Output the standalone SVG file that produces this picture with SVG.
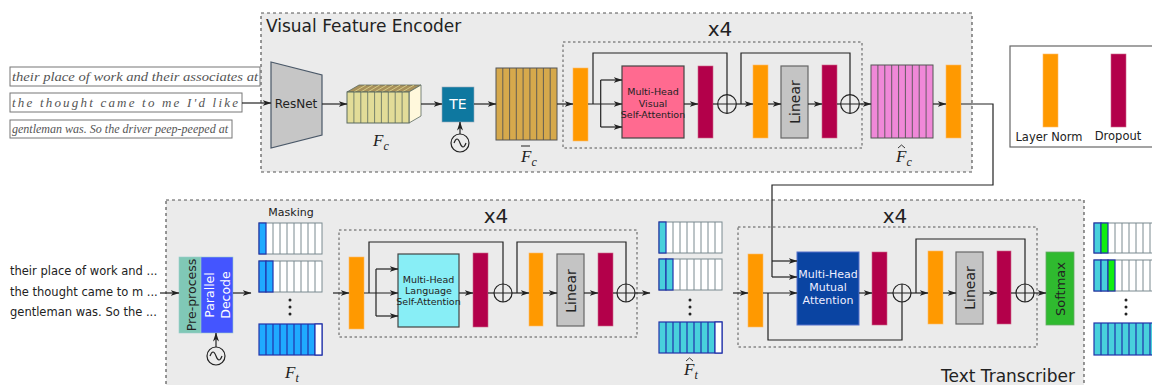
<svg xmlns="http://www.w3.org/2000/svg" width="1152" height="385" viewBox="0 0 1152 385">
<defs>
<marker id="ah" markerWidth="9" markerHeight="6" refX="8.5" refY="3" orient="auto" markerUnits="userSpaceOnUse"><path d="M0,0 L9,3 L0,6 L2.5,3 z" fill="#222"/></marker>
<style>
text{font-family:"DejaVu Sans","Liberation Sans",sans-serif;fill:#222}
.panel{fill:#ebebeb;stroke:#555;stroke-dasharray:3 3;stroke-width:1.2}
.inner{fill:none;stroke:#555;stroke-dasharray:2.5 2.5;stroke-width:1}
.ln{fill:#ff9900;stroke:#ffbb66;stroke-width:0.6}
.do{fill:#b3004a;stroke:#cc6688;stroke-width:0.6}
.lin{fill:#c4c4c4;stroke:#666;stroke-width:1.2}
.c{fill:none;stroke:#222;stroke-width:1.2}
.a{fill:none;stroke:#222;stroke-width:1.2;marker-end:url(#ah)}
.hw{font-family:"Liberation Serif",serif;font-style:italic;fill:#555}
.math{font-family:"Liberation Serif",serif;font-style:italic;fill:#222}
.cellw{fill:#fff;stroke:#7a8a90;stroke-width:1}
.cb{fill:#1faaff;stroke:#2233aa;stroke-width:1.2}
.cc{fill:#48d0dc;stroke:#2233aa;stroke-width:1.2}
.cg{fill:#11ee11;stroke:#2233aa;stroke-width:1.2}
</style>
</defs>
<rect width="1152" height="385" fill="#fff"/>

<!-- panels -->
<g id="encoder-panel">
<rect class="panel" x="261" y="13" width="711" height="159"/>
<text x="266" y="32" font-size="17">Visual Feature Encoder</text>
<rect class="inner" x="563" y="42" width="299" height="106"/>
<text x="720" y="36" font-size="20" text-anchor="middle">x4</text>
</g>
<g id="transcriber-panel">
<rect class="panel" x="166" y="200" width="918" height="200"/>
<text x="1075" y="382" font-size="17" text-anchor="end">Text Transcriber</text>
<rect class="inner" x="339" y="230" width="298" height="107"/>
<text x="496" y="223" font-size="20" text-anchor="middle">x4</text>
<rect class="inner" x="738" y="227" width="299" height="120"/>
<text x="895" y="223" font-size="20" text-anchor="middle">x4</text>
</g>

<!-- inputs -->
<g id="handwriting">
<rect x="10" y="67" width="250" height="19" fill="#fff" stroke="#777"/>
<text class="hw" x="12" y="81" font-size="13" textLength="246" lengthAdjust="spacingAndGlyphs">their place of work and their associates at</text>
<rect x="10" y="93" width="232" height="19" fill="#fff" stroke="#777"/>
<text class="hw" x="12" y="107" font-size="13" textLength="226" lengthAdjust="spacing">the thought came to me I'd like</text>
<rect x="10" y="120" width="222" height="18" fill="#fff" stroke="#777"/>
<text class="hw" x="12" y="133" font-size="12" textLength="216" lengthAdjust="spacingAndGlyphs">gentleman was. So the driver peep-peeped at</text>
</g>
<g id="text-inputs" font-size="11.5">
<text x="10" y="275">their place of work and ...</text>
<text x="10" y="296">the thought came to m ...</text>
<text x="10" y="316">gentleman was. So the ...</text>
</g>

<!-- encoder nodes -->
<g id="resnet">
<polygon points="271,62 322,75 322,135 271,148" fill="#c6c6c6" stroke="#4a5868" stroke-width="1.2"/>
<text x="296" y="108" font-size="12" text-anchor="middle">ResNet</text>
</g>
<g id="fc">
<polygon points="347,92 359,85 421,85 409,92" fill="#a8905a" stroke="#5a6a60" stroke-width="0.8"/>
<path d="M353.9,92 L365.9,85 M360.8,92 L372.8,85 M367.7,92 L379.7,85 M374.6,92 L386.6,85 M381.4,92 L393.4,85 M388.3,92 L400.3,85 M395.2,92 L407.2,85 M402.1,92 L414.1,85" stroke="#e0d890" stroke-width="0.8"/>
<polygon points="409,92 421,85 421,116 409,123" fill="#fff8dc" stroke="#5a6a60" stroke-width="0.8"/>
<rect x="347" y="92" width="62" height="31" fill="#e2dc98" stroke="#5a6a60" stroke-width="1"/>
<path d="M353.9,92V123M360.8,92V123M367.7,92V123M374.6,92V123M381.4,92V123M388.3,92V123M395.2,92V123M402.1,92V123" stroke="#5a6a60" stroke-width="0.8"/>
<text class="math" x="373" y="146" font-size="17">F<tspan font-size="12" dy="4">c</tspan></text>
</g>
<g id="te">
<rect x="442" y="87" width="32" height="35" fill="#0e78a0" stroke="#9ab" stroke-width="0.6"/>
<text x="458" y="109" font-size="14" text-anchor="middle" style="fill:#fff">TE</text>
<circle class="c" cx="460" cy="143" r="9"/>
<path class="c" d="M454,143 q3,-8 6,0 t6,0"/>
</g>
<g id="fc-bar">
<rect x="496" y="68" width="61" height="72" fill="#d6a94c" stroke="#555" stroke-width="1"/>
<path d="M502.8,68V140M509.6,68V140M516.3,68V140M523.1,68V140M529.9,68V140M536.7,68V140M543.4,68V140M550.2,68V140" stroke="#555" stroke-width="0.9"/>
<text class="math" x="521" y="162" font-size="17">F<tspan font-size="12" dy="4">c</tspan></text>
<path d="M521,146 h9" stroke="#222" stroke-width="1"/>
</g>
<g id="enc-block">
<rect class="ln" x="573" y="68" width="15" height="73"/>
<rect x="622" y="66" width="62" height="72" fill="#ff6a90" stroke="#444" stroke-width="1.2"/>
<text font-size="9.5" text-anchor="middle"><tspan x="653" y="95">Multi-Head</tspan><tspan x="653" y="107">Visual</tspan><tspan x="653" y="118">Self-Attention</tspan></text>
<rect class="do" x="698" y="66" width="15" height="72"/>
<circle class="c" cx="727" cy="104" r="9.3"/>
<path class="c" d="M717.7,104H736.3M727,94.7V113.3"/>
<rect class="ln" x="753" y="65" width="15" height="73"/>
<rect class="lin" x="781" y="66" width="27" height="72"/>
<text font-size="14" text-anchor="middle" transform="translate(799.5,102) rotate(-90)">Linear</text>
<rect class="do" x="822" y="65" width="15" height="73"/>
<circle class="c" cx="850" cy="104" r="9.3"/>
<path class="c" d="M840.7,104H859.3M850,94.7V113.3"/>
</g>
<g id="fc-hat">
<rect x="871" y="65" width="62" height="73" fill="#f088d8" stroke="#555" stroke-width="1"/>
<path d="M877.9,65V138M884.8,65V138M891.7,65V138M898.6,65V138M905.4,65V138M912.3,65V138M919.2,65V138M926.1,65V138" stroke="#555" stroke-width="0.9"/>
<text class="math" x="896" y="162" font-size="17">F<tspan font-size="12" dy="4">c</tspan></text>
<path d="M898,148 l3.5,-3 l3.5,3" fill="none" stroke="#222" stroke-width="0.9"/>
<rect class="ln" x="946" y="65" width="15" height="73"/>
</g>

<g id="legend">
<rect x="1010" y="46" width="150" height="101" fill="#fff" stroke="#666" stroke-width="1.2"/>
<rect class="ln" x="1043" y="54" width="15" height="73"/>
<rect class="do" x="1111" y="54" width="15" height="73"/>
<text x="1049" y="141" font-size="11.5" text-anchor="middle">Layer Norm</text>
<text x="1118" y="140" font-size="11.5" text-anchor="middle">Dropout</text>
</g>

<!-- transcriber nodes -->
<g id="preprocess">
<rect x="179" y="257" width="22" height="76" fill="#80c8b6" stroke="#9cc" stroke-width="0.6"/>
<rect x="201" y="257" width="32" height="76" fill="#4455ff" stroke="#9cc" stroke-width="0.6"/>
<text font-size="12.5" text-anchor="middle" transform="translate(195.5,295) rotate(-90)">Pre-process</text>
<text font-size="12.5" text-anchor="middle" style="fill:#fff" transform="translate(213.5,295) rotate(-90)">Parallel</text>
<text font-size="12.5" text-anchor="middle" style="fill:#fff" transform="translate(229.5,295) rotate(-90)">Decode</text>
<circle class="c" cx="216" cy="356" r="9"/>
<path class="c" d="M210,356 q3,-8 6,0 t6,0"/>
</g>
<g id="masking">
<text x="291" y="216" font-size="11" text-anchor="middle">Masking</text>
<rect class="cellw" x="259" y="223" width="63" height="31"/>
<path d="M273,223V254M280,223V254M287,223V254M294,223V254M301,223V254M308,223V254M315,223V254" stroke="#7a8a90"/>
<rect class="cb" x="259" y="223" width="7" height="31"/>
<rect class="cellw" x="259" y="261" width="63" height="31"/>
<path d="M280,261V292M287,261V292M294,261V292M301,261V292M308,261V292M315,261V292" stroke="#7a8a90"/>
<rect class="cb" x="259" y="261" width="7" height="31"/><rect class="cb" x="266" y="261" width="7" height="31"/>
<circle cx="290" cy="300" r="1.5" fill="#222"/><circle cx="290" cy="307" r="1.5" fill="#222"/><circle cx="290" cy="314" r="1.5" fill="#222"/>
<rect class="cb" x="259" y="324" width="63" height="31"/>
<path d="M266,324V355M273,324V355M280,324V355M287,324V355M294,324V355M301,324V355M308,324V355M315,324V355" stroke="#2233aa" stroke-width="1.2"/>
<rect x="315" y="324" width="7" height="31" fill="#fff" stroke="#2233aa" stroke-width="1.2"/>
<text class="math" x="285" y="378" font-size="17">F<tspan font-size="12" dy="4">t</tspan></text>
</g>
<g id="lang-block">
<rect class="ln" x="349" y="257" width="15" height="72"/>
<rect x="398" y="254" width="61" height="73" fill="#88eef6" stroke="#444" stroke-width="1.2"/>
<text font-size="9.5" text-anchor="middle"><tspan x="428.5" y="283">Multi-Head</tspan><tspan x="428.5" y="294">Language</tspan><tspan x="428.5" y="305">Self-Attention</tspan></text>
<rect class="do" x="473" y="253" width="15" height="74"/>
<circle class="c" cx="503" cy="293" r="9"/>
<path class="c" d="M494,293H512M503,284V302"/>
<rect class="ln" x="529" y="253" width="14" height="73"/>
<rect class="lin" x="557" y="254" width="27" height="72"/>
<text font-size="14" text-anchor="middle" transform="translate(575.5,291) rotate(-90)">Linear</text>
<rect class="do" x="598" y="253" width="15" height="73"/>
<circle class="c" cx="626" cy="293" r="9"/>
<path class="c" d="M617,293H635M626,284V302"/>
</g>
<g id="ft-hat">
<rect class="cellw" x="659" y="222" width="63" height="31"/>
<path d="M673,222V253M680,222V253M687,222V253M694,222V253M701,222V253M708,222V253M715,222V253" stroke="#7a8a90"/>
<rect class="cc" x="659" y="222" width="7" height="31"/>
<rect class="cellw" x="659" y="259" width="63" height="31"/>
<path d="M680,259V290M687,259V290M694,259V290M701,259V290M708,259V290M715,259V290" stroke="#7a8a90"/>
<rect class="cc" x="659" y="259" width="7" height="31"/><rect class="cc" x="666" y="259" width="7" height="31"/>
<circle cx="690" cy="300" r="1.5" fill="#222"/><circle cx="690" cy="307" r="1.5" fill="#222"/><circle cx="690" cy="314" r="1.5" fill="#222"/>
<rect class="cc" x="659" y="322" width="63" height="31"/>
<path d="M666,322V353M673,322V353M680,322V353M687,322V353M694,322V353M701,322V353M708,322V353M715,322V353" stroke="#2233aa" stroke-width="1.2"/>
<rect x="715" y="322" width="7" height="31" fill="#fff" stroke="#2233aa" stroke-width="1.2"/>
<text class="math" x="684" y="375" font-size="17">F<tspan font-size="12" dy="4">t</tspan></text>
<path d="M686,361 l3.5,-3 l3.5,3" fill="none" stroke="#222" stroke-width="0.9"/>
</g>
<g id="mutual-block">
<rect class="ln" x="748" y="254" width="15" height="73"/>
<rect x="797" y="252" width="62" height="73" fill="#0a44a2" stroke="#5570cc" stroke-width="1"/>
<text font-size="11" text-anchor="middle" style="fill:#eef"><tspan x="828" y="278">Multi-Head</tspan><tspan x="828" y="291">Mutual</tspan><tspan x="828" y="304">Attention</tspan></text>
<rect class="do" x="872" y="252" width="15" height="73"/>
<circle class="c" cx="902" cy="293" r="9"/>
<path class="c" d="M893,293H911M902,284V302"/>
<rect class="ln" x="928" y="251" width="15" height="73"/>
<rect class="lin" x="956" y="252" width="27" height="72"/>
<text font-size="14" text-anchor="middle" transform="translate(974.5,288) rotate(-90)">Linear</text>
<rect class="do" x="997" y="251" width="14" height="73"/>
<circle class="c" cx="1025" cy="293" r="9"/>
<path class="c" d="M1016,293H1034M1025,284V302"/>
</g>
<g id="softmax">
<rect x="1046" y="252" width="28" height="73" fill="#2fba2f" stroke="#6a6" stroke-width="0.8"/>
<text font-size="13" text-anchor="middle" transform="translate(1065,289) rotate(-90)">Softmax</text>
</g>
<g id="output">
<rect class="cellw" x="1094" y="223" width="63" height="30"/>
<path d="M1115,223V253M1122,223V253M1129,223V253M1136,223V253M1143,223V253M1150,223V253" stroke="#7a8a90"/>
<rect class="cc" x="1094" y="223" width="7" height="30"/><rect class="cg" x="1101" y="223" width="7" height="30"/>
<rect class="cellw" x="1094" y="260" width="63" height="31"/>
<path d="M1122,260V291M1129,260V291M1136,260V291M1143,260V291M1150,260V291" stroke="#7a8a90"/>
<rect class="cc" x="1094" y="260" width="7" height="31"/><rect class="cc" x="1101" y="260" width="7" height="31"/><rect class="cg" x="1108" y="260" width="7" height="31"/>
<circle cx="1126" cy="300" r="1.5" fill="#222"/><circle cx="1126" cy="307" r="1.5" fill="#222"/><circle cx="1126" cy="314" r="1.5" fill="#222"/>
<rect class="cc" x="1094" y="323" width="63" height="32"/>
<path d="M1101,323V355M1108,323V355M1115,323V355M1122,323V355M1129,323V355M1136,323V355M1143,323V355M1150,323V355" stroke="#2233aa" stroke-width="1.2"/>
</g>

<!-- connectors -->
<g id="connectors">
<path class="a" d="M242,103H271"/>
<path class="a" d="M322,104H347"/>
<path class="a" d="M421,104H442"/>
<path class="a" d="M460,134V122"/>
<path class="a" d="M474,104H496"/>
<path class="a" d="M557,104H573"/>
<path class="a" d="M588,104H622"/>
<path class="c" d="M600.7,80V127"/>
<path class="a" d="M600.7,80H622"/>
<path class="a" d="M600.7,127H622"/>
<path class="c" d="M593,104V53H727V94.7"/>
<path class="a" d="M684,104H698"/>
<path class="c" d="M713,104H717.7"/>
<path class="a" d="M736.3,104H753"/>
<path class="c" d="M741,104V53H850V94.7"/>
<path class="a" d="M768,104H781"/>
<path class="a" d="M808,104H822"/>
<path class="c" d="M837,104H840.7"/>
<path class="a" d="M859.3,104H871"/>
<path class="a" d="M933,104H946"/>
<path class="c" d="M961,104H993V185H772V277"/>
<path class="a" d="M772,261H797"/>
<path class="a" d="M772,277H797"/>

<path class="a" d="M160,293H179"/>
<path class="a" d="M216,347V333"/>
<path class="a" d="M233,293H251"/>
<path class="a" d="M333,293H349"/>
<path class="a" d="M364,293H398"/>
<path class="c" d="M376,269V316"/>
<path class="a" d="M376,269H398"/>
<path class="a" d="M376,316H398"/>
<path class="c" d="M369,293V242H503V284"/>
<path class="a" d="M459,293H473"/>
<path class="c" d="M488,293H494"/>
<path class="a" d="M512,293H529"/>
<path class="c" d="M517,293V242H626V284"/>
<path class="a" d="M543,293H557"/>
<path class="a" d="M584,293H598"/>
<path class="c" d="M613,293H617"/>
<path class="a" d="M635,293H650"/>
<path class="a" d="M733,293H748"/>
<path class="a" d="M763,293H797"/>
<path class="c" d="M768,293V340H902V302"/>
<path class="a" d="M859,293H872"/>
<path class="c" d="M887,293H893"/>
<path class="a" d="M911,293H928"/>
<path class="c" d="M916,293V239H1025V284"/>
<path class="a" d="M943,293H956"/>
<path class="a" d="M983,293H997"/>
<path class="c" d="M1011,293H1016"/>
<path class="a" d="M1034,293H1046"/>
</g>
</svg>
